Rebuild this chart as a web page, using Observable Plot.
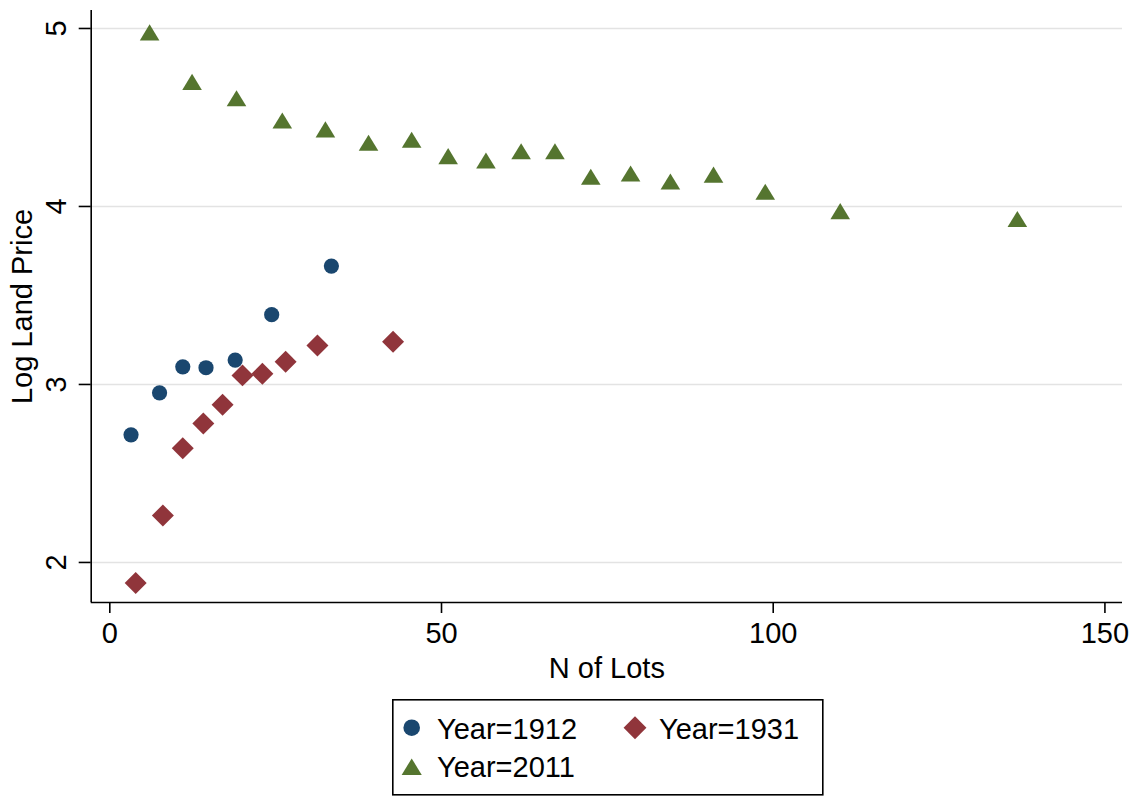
<!DOCTYPE html>
<html>
<head>
<meta charset="utf-8">
<script src="https://cdn.jsdelivr.net/npm/d3@7"></script>
<script src="https://cdn.jsdelivr.net/npm/@observablehq/plot@0.6"></script>
<style>
  html, body { margin: 0; padding: 0; background: #fff; }
  #wrap { position: relative; width: 1137px; height: 796px; font-family: "Liberation Sans", Arial, Helvetica, sans-serif; }
  #chart { position: absolute; left: 0; top: 0; }
  #legend { position: absolute; left: 392px; top: 699px; }
</style>
</head>
<body>
<div id="wrap"><div id="chart"></div><div id="legend"></div></div>
<script>
// ---- data ----
const lots1912  = [3.2, 7.5, 11.0, 14.5, 18.9, 24.4, 33.4];
const price1912 = [2.717, 2.953, 3.099, 3.094, 3.137, 3.392, 3.665];

const lots1931  = [3.9, 8.0, 11.0, 14.1, 17.0, 20.0, 23.0, 26.5, 31.3, 42.7];
const price1931 = [1.884, 2.264, 2.642, 2.781, 2.886, 3.051, 3.060, 3.128, 3.219, 3.240];

const lots2011  = [6.0, 12.4, 19.1, 26.0, 32.5, 39.0, 45.5, 51.0, 56.7, 62.0, 67.1, 72.5, 78.5, 84.5, 91.0, 98.8, 110.1, 136.8];
const price2011 = [4.978, 4.700, 4.608, 4.483, 4.433, 4.358, 4.375, 4.283, 4.258, 4.310, 4.310, 4.167, 4.185, 4.140, 4.179, 4.083, 3.974, 3.930];

const seriesNames = ["Year=1912", "Year=1931", "Year=2011"];
const xTicks = [0, 50, 100, 150];
const yTicks = [2, 3, 4, 5];
const xTitle = "N of Lots";
const yTitle = "Log Land Price";

// ---- styles ----
const colors = { "Year=1912": "#1a476f", "Year=1931": "#90353b", "Year=2011": "#55752f" };
const triangle = {
  draw(context, size) {
    const r = Math.sqrt(size / Math.PI);
    const hw = 1.4 * r, hh = 1.15 * r;
    context.moveTo(0, -hh);
    context.lineTo(hw, hh);
    context.lineTo(-hw, hh);
    context.closePath();
  }
};
const symbols = { "Year=1912": "circle", "Year=1931": "diamond2", "Year=2011": triangle };
const radii = { "Year=1912": 7.6, "Year=1931": 9.9, "Year=2011": 7 };

const toRows = (xs, ys, name) => xs.map((x, i) => ({ lots: x, price: ys[i], series: name }));
const sets = [
  toRows(lots1912, price1912, seriesNames[0]),
  toRows(lots1931, price1931, seriesNames[1]),
  toRows(lots2011, price2011, seriesNames[2])
];

const font = "Liberation Sans, Arial, Helvetica, sans-serif";
const W = 1137, H = 690;
const mL = 90.7, mR = 15, mT = 10, mB = 88;

const chart = Plot.plot({
  width: W, height: H,
  marginLeft: mL, marginRight: mR, marginTop: mT, marginBottom: mB,
  style: { fontFamily: font, background: "#fff", color: "#000" },
  x: { domain: [-2.804, 152.65], axis: null },
  y: { domain: [1.775, 5.101], axis: null },
  marks: [
    Plot.gridY(yTicks, { stroke: "#e3e3e3", strokeOpacity: 1, strokeWidth: 1.6 }),
    Plot.ruleX([-2.804], { stroke: "#000", strokeWidth: 1.6 }),
    Plot.ruleY([1.775], { stroke: "#000", strokeWidth: 1.6 }),
    Plot.axisX({ ticks: xTicks, tickSize: 11, tickPadding: 8.5, fontSize: 29, label: null, stroke: "#000", strokeWidth: 1.6 }),
    Plot.axisY({ ticks: yTicks, tickSize: 12, tickFormat: () => "", label: null, stroke: "#000", strokeWidth: 1.6 }),
    Plot.text(yTicks, { y: d => d, text: d => String(d), frameAnchor: "left", dx: -34.5, rotate: -90, fontSize: 29, lineAnchor: "middle", textAnchor: "middle", fill: "#000" }),
    Plot.text([yTitle], { text: d => d, frameAnchor: "left", dx: -68, rotate: -90, fontSize: 29, lineAnchor: "middle", textAnchor: "middle", fill: "#000" }),
    Plot.text([xTitle], { text: d => d, frameAnchor: "bottom", dy: 55, fontSize: 29, lineAnchor: "top", textAnchor: "middle", fill: "#000" }),
    ...sets.map(rows => Plot.dot(rows, {
      x: "lots", y: "price",
      fill: colors[rows[0].series], stroke: "none",
      symbol: symbols[rows[0].series], r: radii[rows[0].series]
    }))
  ]
});
document.getElementById("chart").appendChild(chart);

// ---- legend (box below the plot) ----
const LW = 430, LH = 95;
const legend = d3.select("#legend").append("svg")
  .attr("width", LW + 2).attr("height", LH + 2)
  .style("font-family", font);
legend.append("rect").attr("x", 0.8).attr("y", 0.8).attr("width", LW).attr("height", LH)
  .attr("fill", "#fff").attr("stroke", "#000").attr("stroke-width", 1.6);
const itemPos = [
  { sx: 19.7, sy: 28.7, tx: 45, ty: 39.5 },
  { sx: 243, sy: 28.7, tx: 267, ty: 39.5 },
  { sx: 19.7, sy: 67.7, tx: 45, ty: 78 }
];
const legSym = { "Year=1912": d3.symbolCircle, "Year=1931": d3.symbolDiamond2, "Year=2011": triangle };
const legR = { "Year=1912": 8.3, "Year=1931": 10.3, "Year=2011": 7.2 };
seriesNames.forEach((name, i) => {
  const p = itemPos[i];
  const r = legR[name];
  legend.append("path")
    .attr("d", d3.symbol(legSym[name], Math.PI * r * r)())
    .attr("transform", `translate(${p.sx},${p.sy})`)
    .attr("fill", colors[name]);
  legend.append("text")
    .attr("x", p.tx).attr("y", p.ty)
    .attr("font-size", 29).attr("fill", "#000")
    .text(name);
});
</script>
</body>
</html>
